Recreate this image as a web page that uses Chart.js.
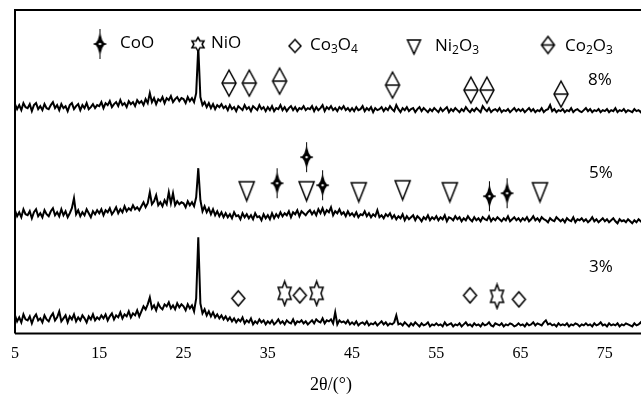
<!DOCTYPE html>
<html>
<head>
<meta charset="utf-8">
<script src="https://cdn.jsdelivr.net/npm/chart.js@4.4.1/dist/chart.umd.min.js"></script>
<style>
  html, body { margin: 0; padding: 0; overflow: hidden; background: #fff; }
  #wrap { width: 662px; height: 399px; }
</style>
</head>
<body>
<div id="wrap"><canvas id="xrd" width="662" height="399"></canvas></div>
<script>
// 2theta axis, one reading every 0.25 degree from 5 to 80
const thetaStart = 5, thetaStep = 0.25, thetaCount = 301;
const xTicks = [5, 15, 25, 35, 45, 55, 65, 75];

// intensity of each sample (arbitrary units, already offset per sample)
const pattern3 = [
  18,12,16,11,19,14,13,17,10,16,19,13,15,11,18,14,12,17,20,13,
  16,22,12,15,18,11,17,14,19,12,16,13,18,15,11,17,14,19,13,16,
  14,18,15,19,13,17,20,14,18,16,21,15,19,17,22,16,20,18,23,17,
  22,27,24,29,36,25,28,23,30,26,24,29,27,31,25,28,24,30,26,29,
  27,23,29,25,28,22,35,
  96,
  30,20,24,18,22,17,21,16,19,15,18,14,
  17,13,16,12,15,11,14,12,16,10,13,11,15,9,12,10,14,11,13,9,
  12,10,13,9,11,14,10,12,9,13,11,10,14,9,12,11,13,10,12,9,
  11,13,10,14,12,11,15,10,13,12,14,10,21,9,13,11,12,10,13,9,
  11,9,12,8,10,11,9,12,8,10,9,11,8,10,12,9,11,8,10,9,
  11,18,9,10,8,11,9,7,10,8,11,9,7,10,8,9,11,7,9,8,
  10,8,9,7,11,8,9,10,7,9,8,10,7,9,11,8,9,7,10,8,
  9,7,10,8,9,11,8,7,10,9,8,10,7,9,8,10,9,7,8,10,
  8,9,7,10,8,9,11,8,10,9,8,11,13,9,10,8,9,7,10,8,
  9,8,10,7,9,8,10,9,7,9,8,10,8,9,7,10,8,9,11,8,
  9,7,10,8,9,8,10,7,9,8,10,9,8,7,10,8,9,11,8,9,8
];
const pattern5 = [
  123,117,121,116,124,119,118,122,115,121,124,117,120,116,123,119,117,122,125,118,
  121,117,124,118,122,116,120,125,135,119,123,117,121,118,124,120,116,122,119,123,
  120,124,118,123,121,125,119,122,126,120,124,121,127,122,125,123,128,124,126,123,
  127,131,126,130,141,129,132,138,128,131,127,133,129,141,130,140,128,132,129,131,
  130,126,132,128,131,127,136,
  165,
  133,122,127,121,125,119,124,118,122,117,121,116,
  120,116,119,115,121,117,118,114,120,116,119,115,118,114,120,116,117,113,119,115,
  118,114,120,115,119,116,121,117,120,118,122,116,121,119,123,117,122,120,118,121,
  123,119,122,118,124,120,125,119,123,121,126,118,122,120,124,119,121,117,122,118,
  120,117,121,116,119,118,122,117,120,116,119,117,123,116,118,115,119,117,120,115,
  118,114,117,115,119,113,117,114,116,118,113,117,115,112,116,114,118,113,116,114,
  117,113,116,114,118,112,116,115,113,117,114,116,112,115,113,117,114,112,116,113,
  115,112,116,114,113,117,112,115,113,116,114,112,115,113,117,112,114,116,113,115,
  112,115,113,116,112,114,117,113,115,112,116,114,113,111,115,113,112,116,114,112,
  114,111,115,113,112,116,111,114,113,115,112,114,111,113,116,112,114,111,113,115,
  112,114,111,113,115,112,110,114,112,113,111,114,112,110,113,111,114,112,110,113,112
];
const pattern8 = [
  229,224,228,223,230,226,225,229,222,228,230,224,227,223,229,225,224,228,231,225,
  228,223,229,225,227,222,228,230,224,227,229,223,228,225,230,224,226,229,225,228,
  227,231,225,230,228,232,226,229,231,227,233,228,230,226,232,229,231,227,233,230,
  232,228,234,230,240,231,235,229,234,232,236,230,235,233,237,231,234,236,232,235,
  234,230,236,232,235,231,240,
  286,
  236,228,231,226,230,225,229,224,228,226,229,225,
  227,223,228,224,226,222,227,225,223,228,224,226,222,227,225,223,228,224,226,222,
  226,223,227,222,225,224,228,223,226,222,225,227,223,226,222,225,224,227,223,225,
  224,227,222,226,223,225,228,222,226,224,227,223,225,222,226,224,227,223,225,222,
  225,222,226,223,224,227,222,225,223,226,221,225,223,224,226,222,225,223,227,224,
  222,228,224,221,225,223,226,222,224,225,221,224,226,222,225,223,221,224,222,225,
  223,221,225,222,224,226,221,224,222,225,223,221,224,222,226,223,221,224,222,225,
  223,221,227,224,222,225,221,223,224,222,225,221,223,222,224,221,223,225,222,224,
  222,224,221,223,225,222,224,221,223,222,225,221,223,224,228,222,224,221,223,222,
  224,221,223,222,225,221,223,224,222,221,223,225,222,224,221,223,222,224,221,223,
  222,224,221,223,222,225,221,223,222,224,221,223,222,221,224,222,223,221,224,222,223
];

// phase marks: 2theta and height on the same intensity scale
const cooTheta = [36.1, 39.6, 41.5, 61.3, 63.4];
const cooLevel = [150, 176, 148, 137, 140];
const nioTheta = [37.0, 40.8, 62.2];
const nioLevel = [40, 40, 37];
const co3o4Theta = [31.5, 38.8, 59.0, 64.8];
const co3o4Level = [35, 38, 38, 34];
const ni2o3Theta = [32.5, 39.6, 45.8, 51.0, 56.6, 67.3];
const ni2o3Level = [142, 142, 141, 143, 141, 141];
const co2o3Theta = [30.4, 32.8, 36.4, 49.8, 59.1, 61.0, 69.8];
const co2o3Level = [250, 250, 252, 248, 243, 243, 239];

const theta = [];
for (let i = 0; i < thetaCount; i++) theta.push(thetaStart + i * thetaStep);

// marker glyphs drawn once on small canvases
function glyph(w, h, fn) {
  const c = document.createElement("canvas");
  c.width = w; c.height = h;
  const g = c.getContext("2d");
  g.lineWidth = 1.5; g.strokeStyle = "#000"; g.fillStyle = "#fff";
  fn(g, w / 2, h / 2);
  return c;
}
function sparkle(rx, ry) {
  return glyph(2 * rx + 4, 2 * ry + 4, (g, cx, cy) => {
    g.lineWidth = 1;
    g.beginPath();
    g.moveTo(cx, cy - ry); g.lineTo(cx, cy + ry);
    g.moveTo(cx - rx, cy); g.lineTo(cx + rx, cy);
    g.stroke();
    g.fillStyle = "#000";
    g.beginPath();
    g.moveTo(cx, cy - ry);
    g.quadraticCurveTo(cx + 1, cy - 1, cx + rx, cy);
    g.quadraticCurveTo(cx + 1, cy + 1, cx, cy + ry);
    g.quadraticCurveTo(cx - 1, cy + 1, cx - rx, cy);
    g.quadraticCurveTo(cx - 1, cy - 1, cx, cy - ry);
    g.fill();
    g.fillStyle = "#fff";
    g.beginPath();
    g.moveTo(cx, cy - 1.3); g.lineTo(cx + 1.8, cy); g.lineTo(cx, cy + 1.3); g.lineTo(cx - 1.8, cy);
    g.fill();
  });
}
function hexagram(rx, ry) {
  return glyph(2 * rx + 4, 2 * ry + 4, (g, cx, cy) => {
    g.beginPath();
    for (let k = 0; k < 12; k++) {
      const a = k * Math.PI / 6, r = k % 2 ? 0.58 : 1;
      const px = cx + Math.sin(a) * rx * r, py = cy - Math.cos(a) * ry * r;
      k ? g.lineTo(px, py) : g.moveTo(px, py);
    }
    g.closePath(); g.fill(); g.stroke();
  });
}
function diamond(rx, ry, bar) {
  return glyph(2 * rx + 4, 2 * ry + 4, (g, cx, cy) => {
    g.beginPath();
    g.moveTo(cx, cy - ry); g.lineTo(cx + rx, cy); g.lineTo(cx, cy + ry); g.lineTo(cx - rx, cy);
    g.closePath(); g.fill(); g.stroke();
    if (bar) { g.beginPath(); g.moveTo(cx - rx, cy); g.lineTo(cx + rx, cy); g.stroke(); }
  });
}
function triangle(rx, ry) {
  return glyph(2 * rx + 4, 2 * ry + 4, (g, cx, cy) => {
    g.beginPath();
    g.moveTo(cx - rx, cy - ry); g.lineTo(cx + rx, cy - ry); g.lineTo(cx, cy + ry);
    g.closePath(); g.fill(); g.stroke();
  });
}

const markCoO = sparkle(6.5, 15);
const markNiO = hexagram(7.5, 12);
const markCo3O4 = diamond(6.5, 7.5, false);
const markNi2O3 = triangle(7.5, 9.5);
const markCo2O3 = diamond(7, 13, true);

const keyCoO = sparkle(6.5, 15);
const keyNiO = hexagram(7, 6.8);
const keyCo3O4 = diamond(6, 6.5, false);
const keyNi2O3 = triangle(6.5, 7);
const keyCo2O3 = diamond(6.5, 8.5, true);

function pts(xs, ys) { return xs.map((x, i) => ({ x, y: ys[i] })); }
function trace(values) {
  return {
    type: "line", data: pts(theta, values),
    borderColor: "#000", borderWidth: 2, pointRadius: 0, tension: 0
  };
}
function marks(xs, ys, img) {
  return {
    type: "scatter", data: pts(xs, ys),
    pointStyle: img, pointRadius: 5, clip: false
  };
}

// chemical formula with subscripts: parts alternate normal / subscript
function formula(ctx, parts, x, y) {
  parts.forEach(([t, sub]) => {
    ctx.font = sub ? '12px "Open Sans"' : '17px "Open Sans"';
    ctx.fillText(t, x, sub ? y + 3 : y);
    x += ctx.measureText(t).width;
  });
}

const frameAndKey = {
  id: "frameAndKey",
  afterDraw(chart) {
    const { ctx, chartArea: a } = chart;
    ctx.save();
    ctx.strokeStyle = "#000";
    ctx.lineWidth = 2;
    ctx.beginPath();
    ctx.moveTo(a.left, a.bottom); ctx.lineTo(a.left, a.top); ctx.lineTo(a.right, a.top);
    ctx.moveTo(a.left, a.bottom); ctx.lineTo(a.right, a.bottom);
    ctx.stroke();

    const put = (img, x, y) => ctx.drawImage(img, x - img.width / 2, y - img.height / 2);
    ctx.fillStyle = "#000";
    ctx.textBaseline = "alphabetic";
    put(keyCoO, 100, 44);
    formula(ctx, [["CoO", 0]], 120, 48);
    put(keyNiO, 198, 44);
    formula(ctx, [["NiO", 0]], 211, 48);
    put(keyCo3O4, 295, 46);
    formula(ctx, [["Co", 0], ["3", 1], ["O", 0], ["4", 1]], 310, 50);
    put(keyNi2O3, 414, 47);
    formula(ctx, [["Ni", 0], ["2", 1], ["O", 0], ["3", 1]], 435, 51);
    put(keyCo2O3, 548, 45);
    formula(ctx, [["Co", 0], ["2", 1], ["O", 0], ["3", 1]], 565, 51);

    ctx.font = '17px "Open Sans"';
    ctx.fillText("8%", 588, 85);
    ctx.fillText("5%", 589, 178);
    ctx.fillText("3%", 589, 272);
    ctx.restore();
  }
};

new Chart(document.getElementById("xrd"), {
  type: "line",
  data: {
    datasets: [
      trace(pattern8), trace(pattern5), trace(pattern3),
      marks(cooTheta, cooLevel, markCoO),
      marks(nioTheta, nioLevel, markNiO),
      marks(co3o4Theta, co3o4Level, markCo3O4),
      marks(ni2o3Theta, ni2o3Level, markNi2O3),
      marks(co2o3Theta, co2o3Level, markCo2O3)
    ]
  },
  options: {
    responsive: false,
    animation: false,
    layout: { padding: { left: 15, right: 15, top: 10, bottom: 2 } },
    plugins: { legend: { display: false }, tooltip: { enabled: false } },
    scales: {
      x: {
        type: "linear", min: 5, max: 80,
        afterBuildTicks: (s) => { s.ticks = xTicks.map((v) => ({ value: v })); },
        grid: { display: false, drawTicks: false },
        border: { display: false },
        ticks: { color: "#000", padding: 0, maxRotation: 0, autoSkip: false,
                 font: { family: "Liberation Serif", size: 16, lineHeight: 2.5 } },
        title: { display: true, text: "2θ/(°)", color: "#000",
                 font: { family: "Liberation Serif", size: 18 },
                 padding: { top: 1, bottom: 1 } }
      },
      y: { display: false, min: 0, max: 323 }
    }
  },
  plugins: [frameAndKey]
});
</script>
</body>
</html>
